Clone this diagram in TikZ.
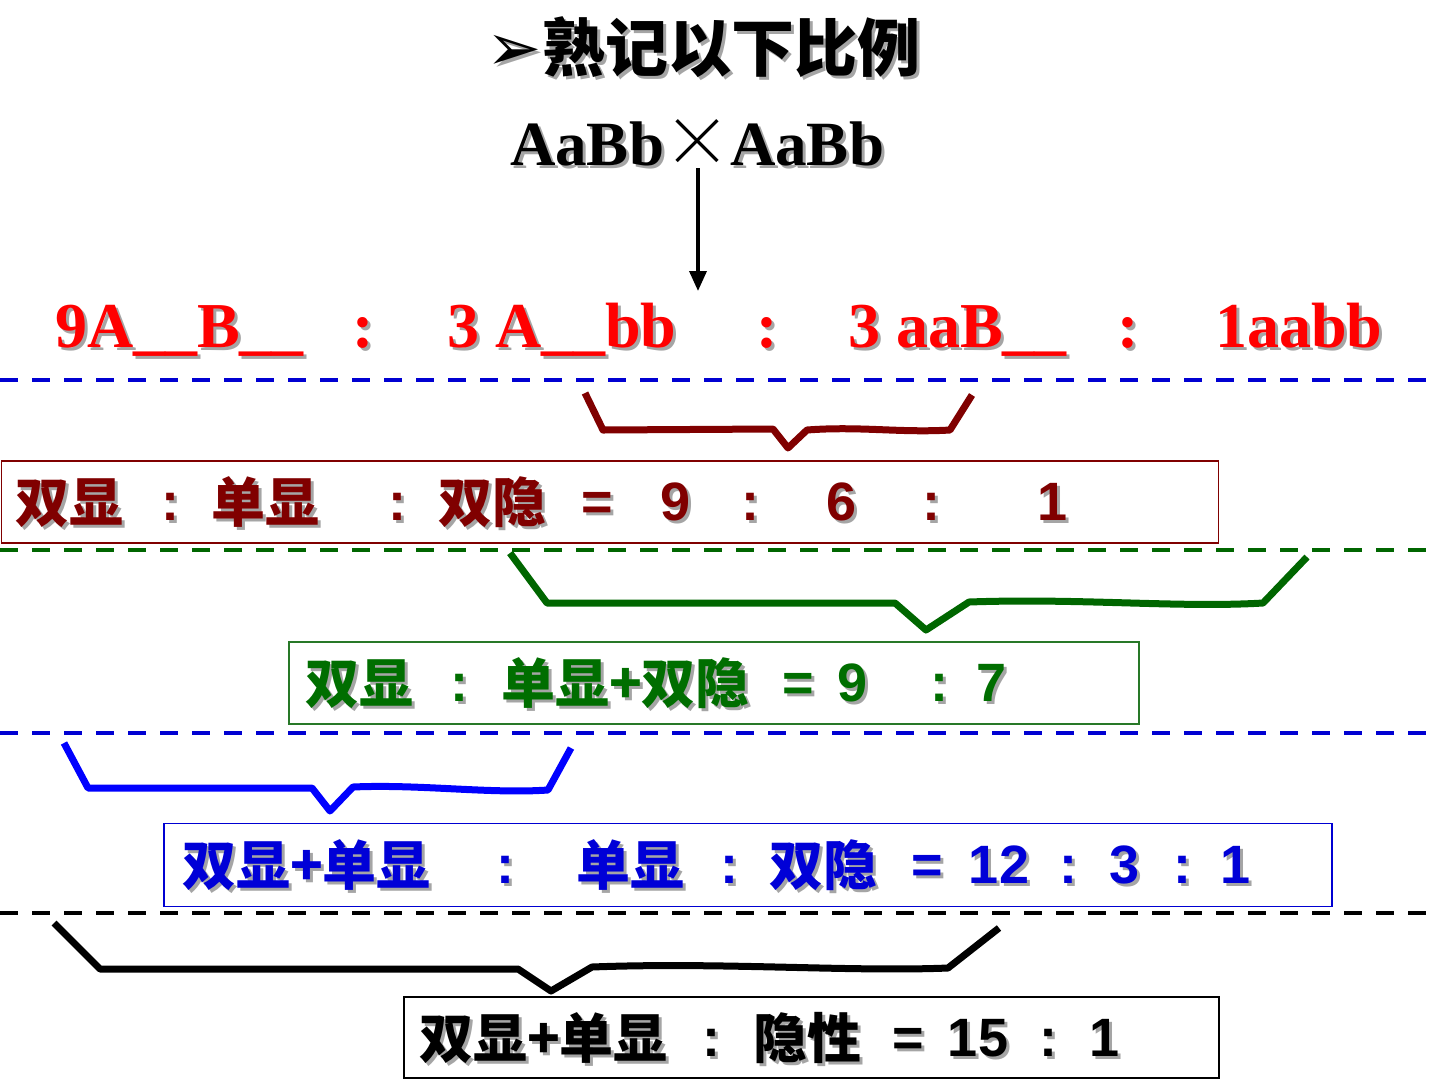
\documentclass[tikz,border=0pt]{standalone}
\usepackage{fontspec}
\setmainfont{Liberation Sans}
\newfontfamily\cjk{Noto Sans CJK SC}
\newfontfamily\cjklight{Noto Sans CJK SC Light}
\newfontfamily\tnr{Liberation Serif}
\newfontfamily\dv{DejaVu Sans}
\usetikzlibrary{arrows.meta}
\definecolor{dred}{RGB}{128,0,0}
\definecolor{rred}{RGB}{255,0,0}
\definecolor{dgreen}{RGB}{0,102,0}
\definecolor{tgreen}{RGB}{0,110,0}
\definecolor{bblue}{RGB}{0,0,210}
\definecolor{tblue}{RGB}{0,0,215}
\definecolor{fgreen}{RGB}{40,120,40}
\definecolor{shadowgray}{RGB}{165,165,165}
\newcommand\stxt[5]{%
  \node[#1,text=shadowgray] at ([shift={(3,3)}]#3) {#5};
  \node[#1,text=#4] (#2) at (#3) {#5};}
\begin{document}
\begin{tikzpicture}[x=1pt,y=-1pt,
  every node/.style={inner sep=0pt, outer sep=0pt},
  titlef/.style={font=\fontsize{63pt}{70pt}\selectfont\bfseries},
  arrowf/.style={font=\dv\fontsize{66pt}{80pt}\selectfont},
  crossf/.style={font=\tnr\fontsize{63pt}{70pt}\selectfont\bfseries},
  redf/.style={font=\tnr\fontsize{64pt}{70pt}\selectfont\bfseries},
  boxf/.style={font=\fontsize{54pt}{60pt}\selectfont\bfseries},
  dashline/.style={line width=4pt, dash pattern=on 18pt off 14pt},
  bracel/.style={line width=7pt, line join=round},
  frame/.style={draw, line width=1.5pt, minimum width=#1, fill=none},
]
\useasboundingbox (0,0) rectangle (1440,1080);

% title
\stxt{arrowf, anchor=base west}{tarrow}{486,70}{black}{➢}
\stxt{titlef, anchor=base west}{title}{542,71}{black}{\cjk 熟记以下比例}

% cross
\stxt{crossf, anchor=base west}{p1}{510,165}{black}{AaBb}
\node[font=\cjklight\fontsize{68pt}{72pt}\selectfont, anchor=center] (x) at (697,143) {×};
\stxt{crossf, anchor=base west}{p2}{730,165}{black}{AaBb}
\coordinate (atop) at (698,168);
\coordinate (abot) at (698,291);
\draw[line width=3.5pt, -{Triangle[length=20pt,width=17pt]}] (atop) -- (abot);

% red row
\stxt{redf, anchor=base west}{g1}{55,347}{rred}{9A\_\_B\_\_}
\stxt{redf, anchor=base}{c1}{363,347}{rred}{:}
\stxt{redf, anchor=base west}{g2}{447,347}{rred}{3 A\_\_bb}
\stxt{redf, anchor=base}{c2}{767,347}{rred}{:}
\stxt{redf, anchor=base west}{g3}{848,347}{rred}{3 aaB\_\_}
\stxt{redf, anchor=base}{c3}{1128,347}{rred}{:}
\stxt{redf, anchor=base west}{g4}{1215,347}{rred}{1aabb}

% dashed lines
\draw[dashline, bblue] (0,380) -- (1440,380);
\draw[dashline, dgreen] (0,550) -- (1440,550);
\draw[dashline, bblue] (0,733) -- (1440,733);
\draw[dashline, black] (0,913) -- (1440,913);

% braces
\draw[bracel, dred] (585,393) -- (603,430) -- (773,429) -- (788,448) -- (807,430)
  .. controls (860,426) and (900,433) .. (950,430) -- (972,395);
\draw[bracel, dgreen] (510,553) -- (547,603) -- (895,603) -- (926,630) -- (969,602)
  .. controls (1080,598) and (1180,608) .. (1263,603) -- (1307,557);
\draw[bracel, blue] (64,743) -- (88,788) -- (312,788) -- (330,811) -- (353,787)
  .. controls (420,784) and (490,794) .. (548,790) -- (571,748);
\draw[bracel, black] (54,923) -- (100,969) -- (518,969) -- (551,991) -- (592,967)
  .. controls (720,962) and (850,972) .. (948,968) -- (999,928);

% boxes
\node[frame=1217pt, draw=dred, minimum height=82pt] (box1) at (610,502) {};
\node[frame=850pt, draw=fgreen, minimum height=82pt] (box2) at (714,683) {};
\node[frame=1168pt, draw=bblue, minimum height=83pt] (box3) at (748,865) {};
\node[frame=815pt, draw=black, minimum height=81pt] (box4) at (811.5,1037.5) {};

% box1 text
\stxt{boxf, anchor=base west}{t11}{15,522}{dred}{\cjk 双显}
\stxt{boxf, anchor=base}{t12}{170,520}{dred}{:}
\stxt{boxf, anchor=base west}{t13}{211,522}{dred}{\cjk 单显}
\stxt{boxf, anchor=base}{t14}{397,520}{dred}{:}
\stxt{boxf, anchor=base west}{t15}{438,522}{dred}{\cjk 双隐}
\stxt{boxf, anchor=base}{t16}{597,520}{dred}{=}
\stxt{boxf, anchor=base}{t17}{676,520}{dred}{9}
\stxt{boxf, anchor=base}{t18}{750,520}{dred}{:}
\stxt{boxf, anchor=base}{t19}{842,520}{dred}{6}
\stxt{boxf, anchor=base}{t110}{931,520}{dred}{:}
\stxt{boxf, anchor=base}{t111}{1053,520}{dred}{1}

% box2 text
\stxt{boxf, anchor=base west}{t21}{305,703}{tgreen}{\cjk 双显}
\stxt{boxf, anchor=base}{t22}{459,701}{tgreen}{:}
\stxt{boxf, anchor=base west}{t23}{501,703}{tgreen}{\cjk 单显+双隐}
\stxt{boxf, anchor=base}{t24}{798,701}{tgreen}{=}
\stxt{boxf, anchor=base}{t25}{853,701}{tgreen}{9}
\stxt{boxf, anchor=base}{t26}{939,701}{tgreen}{:}
\stxt{boxf, anchor=base}{t27}{992,701}{tgreen}{7}

% box3 text
\stxt{boxf, anchor=base west}{t31}{182,885}{tblue}{\cjk 双显+单显}
\stxt{boxf, anchor=base}{t32}{505,883}{tblue}{:}
\stxt{boxf, anchor=base west}{t33}{576,885}{tblue}{\cjk 单显}
\stxt{boxf, anchor=base}{t34}{729,883}{tblue}{:}
\stxt{boxf, anchor=base west}{t35}{769,885}{tblue}{\cjk 双隐}
\stxt{boxf, anchor=base}{t36}{927,883}{tblue}{=}
\stxt{boxf, anchor=base}{t37}{999,883}{tblue}{12}
\stxt{boxf, anchor=base}{t38}{1068,883}{tblue}{:}
\stxt{boxf, anchor=base}{t39}{1125,883}{tblue}{3}
\stxt{boxf, anchor=base}{t310}{1182,883}{tblue}{:}
\stxt{boxf, anchor=base}{t311}{1235,883}{tblue}{1}

% box4 text
\stxt{boxf, anchor=base west}{t41}{419,1058}{black}{\cjk 双显+单显}
\stxt{boxf, anchor=base}{t42}{711,1056}{black}{:}
\stxt{boxf, anchor=base west}{t43}{753,1058}{black}{\cjk 隐性}
\stxt{boxf, anchor=base}{t44}{908,1056}{black}{=}
\stxt{boxf, anchor=base}{t45}{978,1056}{black}{15}
\stxt{boxf, anchor=base}{t46}{1048,1056}{black}{:}
\stxt{boxf, anchor=base}{t47}{1105,1056}{black}{1}
\end{tikzpicture}
\end{document}
